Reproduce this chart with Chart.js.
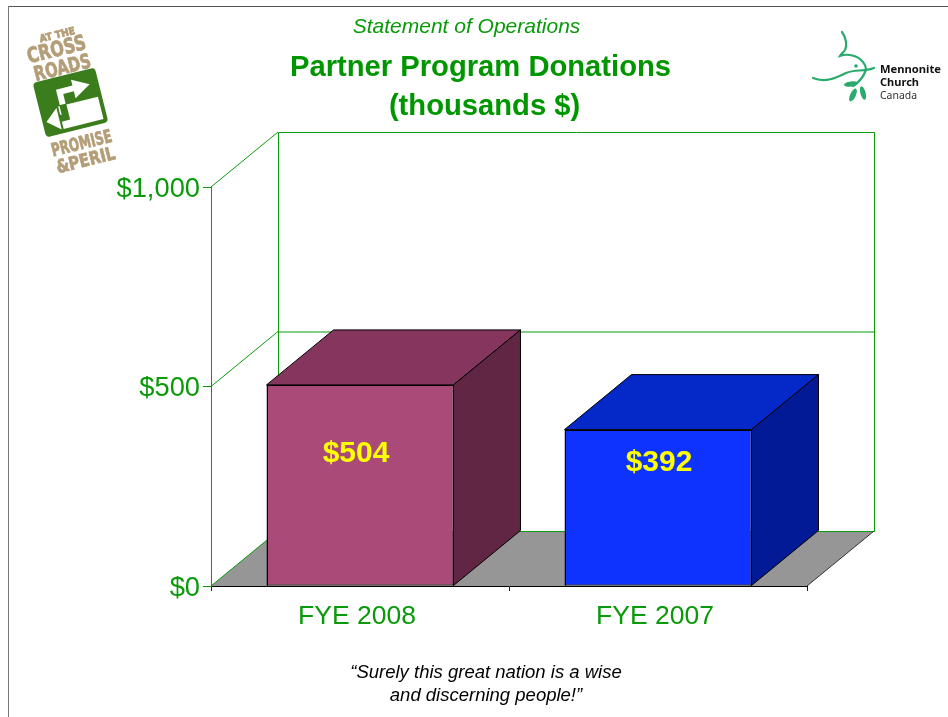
<!DOCTYPE html>
<html><head><meta charset="utf-8">
<script src="https://cdn.jsdelivr.net/npm/chart.js@4"></script>
<style>
html,body{margin:0;padding:0;background:#fff;overflow:hidden}
#wrap{position:relative;width:948px;height:717px;overflow:hidden}
canvas{position:absolute;left:0;top:0}
#frameT{position:absolute;left:8px;top:6px;right:0;height:1px;background:#555}
#frameL{position:absolute;left:8px;top:6px;bottom:0;width:1px;background:#777}
#quote{position:absolute;left:286px;width:400px;top:661px;text-align:center;font:italic 18.5px/22.5px "Liberation Sans",Arial,sans-serif;color:#000}
svg{position:absolute;left:0;top:0}
</style></head><body>
<div id="wrap">
<div id="frameT"></div><div id="frameL"></div>
<canvas id="c" width="948" height="717"></canvas>
<div id="quote">“Surely this great nation is a wise<br>and discerning people!”</div>
<svg width="948" height="717" font-family="Liberation Sans, Arial, sans-serif">
  <g fill="#B49E78" font-weight="bold" text-anchor="middle" font-family="DejaVu Sans, sans-serif" stroke="#B49E78" stroke-width=".8">
    <g transform="translate(58,38) rotate(-14)"><text font-size="10" textLength="36" lengthAdjust="spacingAndGlyphs">AT THE</text></g>
    <g transform="translate(58,56) rotate(-14)"><text font-size="21" textLength="60" lengthAdjust="spacingAndGlyphs">CROSS</text></g>
    <g transform="translate(64,74) rotate(-14)"><text font-size="20" textLength="58" lengthAdjust="spacingAndGlyphs">ROADS</text></g>
    <g transform="translate(83,149) rotate(-14)"><text font-size="18" textLength="62" lengthAdjust="spacingAndGlyphs">PROMISE</text></g>
    <g transform="translate(87,166) rotate(-14)"><text font-size="18" textLength="60" lengthAdjust="spacingAndGlyphs">&amp;PERIL</text></g>
  </g>
  <g transform="translate(70.5,102.5) rotate(-14)">
    <rect x="-32" y="-28" width="64" height="56" rx="4" fill="#3B7D1C"/>
    <rect x="-13" y="1" width="41" height="23" fill="#fff"/>
    <path d="M-8 2 V-13 H8" fill="none" stroke="#fff" stroke-width="6"/>
    <path d="M6 -22 L23 -13 L6 -3 Z" fill="#fff"/>
    <path d="M-8 0 V13 H-16" fill="none" stroke="#3B7D1C" stroke-width="7"/>
    <path d="M-15 2 L-28 13 L-15 24 Z" fill="#fff"/>
  </g>
  <g fill="none" stroke="#2BAA6E" stroke-width="2.2" stroke-linecap="round">
    <path d="M842 32 C847 39 847 46 845 50 C843 53 841 54 840 56 C848 53 858 56 862 61 C865 64 866 67 866 70"/>
    <path d="M813 78 C825 83 836 78 846 73 C855 69 864 72 874 68"/>
    <path d="M866 70 C863 78 858 83 853 86"/>
  </g>
  <circle cx="856" cy="66" r="1.8" fill="#2BAA6E"/>
  <g fill="#2BAA6E">
    <ellipse cx="851" cy="84" rx="7" ry="2.6" transform="rotate(-8 851 84)"/>
    <ellipse cx="853" cy="95" rx="2.8" ry="7" transform="rotate(25 853 95)"/>
    <ellipse cx="863" cy="93" rx="2.6" ry="7" transform="rotate(-15 863 93)"/>
  </g>
  <g font-family="Noto Sans, sans-serif" font-size="11" fill="#111">
    <text x="880" y="73" font-weight="bold" textLength="61" lengthAdjust="spacingAndGlyphs">Mennonite</text>
    <text x="880" y="86" font-weight="bold" textLength="39" lengthAdjust="spacingAndGlyphs">Church</text>
    <text x="880" y="99" fill="#333" textLength="37" lengthAdjust="spacingAndGlyphs">Canada</text>
  </g>
</svg>
</div>
<script>
const categories = ["FYE 2008", "FYE 2007"];
const donations = [504, 392];
const valueLabels = ["$504", "$392"];
const yTicks = [0, 500, 1000];
const frontColors = ["#A94A78", "#0F33FF"];
const topColors = ["#86355E", "#0528C8"];
const sideColors = ["#602644", "#031A96"];

const GREEN = "#099A09";
const DX = 67, DY = -55;
const labelDrop = [69, 33];

function poly(ctx, pts, fill, stroke) {
  ctx.beginPath();
  pts.forEach((p, i) => i ? ctx.lineTo(p[0], p[1]) : ctx.moveTo(p[0], p[1]));
  ctx.closePath();
  if (fill) { ctx.fillStyle = fill; ctx.fill(); }
  if (stroke) { ctx.strokeStyle = stroke; ctx.lineWidth = 1; ctx.stroke(); }
}
function line(ctx, x1, y1, x2, y2, c) {
  ctx.beginPath(); ctx.moveTo(x1, y1); ctx.lineTo(x2, y2);
  ctx.strokeStyle = c; ctx.lineWidth = 1; ctx.stroke();
}
const depth3d = {
  id: "depth3d",
  afterLayout(chart) {
    chart.boxes.forEach(b => {
      if (b === chart.titleBlock) { b.left += 63; b.right += 63; }
      else if (b.options && b.options.text && b.position === "top") { b.left += 77; b.right += 77; }
    });
  },
  beforeDatasetsDraw(chart) {
    const { ctx, chartArea: a, scales: { y } } = chart;
    const L = a.left, R = a.right, B = y.getPixelForValue(0);
    ctx.save();
    poly(ctx, [[L, B], [L + DX, B + DY], [R + DX, B + DY], [R, B]], "#969696");
    const top = y.getPixelForValue(yTicks[yTicks.length - 1]);
    poly(ctx, [[L + DX + .5, top + DY + .5], [R + DX + .5, top + DY + .5], [R + DX + .5, B + DY + .5], [L + DX + .5, B + DY + .5]], null, GREEN);
    yTicks.forEach(t => {
      const py = y.getPixelForValue(t);
      line(ctx, L, py, L + DX, py + DY, GREEN);
      if (t > 0 && t < yTicks[yTicks.length - 1]) line(ctx, L + DX, py + DY + .5, R + DX, py + DY + .5, GREEN);
    });
    line(ctx, R, B, R + DX, B + DY, "#333");
    const meta = chart.getDatasetMeta(0);
    meta.data.forEach((bar, i) => {
      const x1 = bar.x - bar.width / 2, x2 = bar.x + bar.width / 2, t = bar.y, b = bar.base;
      poly(ctx, [[x1, t], [x1 + DX, t + DY], [x2 + DX, t + DY], [x2, t]], topColors[i], "#000");
      poly(ctx, [[x2, t], [x2 + DX, t + DY], [x2 + DX, b + DY], [x2, b]], sideColors[i], "#000");
    });
    ctx.restore();
  },
  afterDatasetsDraw(chart) {
    const { ctx } = chart;
    ctx.save();
    chart.getDatasetMeta(0).data.forEach(bar => {
      const x1 = Math.round(bar.x - bar.width / 2) + .5, x2 = Math.round(bar.x + bar.width / 2) + .5;
      const t = Math.round(bar.y) + .5, b = Math.round(bar.base) + .5;
      poly(ctx, [[x1, t], [x2, t], [x2, b], [x1, b]], null, "#000");
    });
    ctx.font = 'bold 30px "Liberation Sans", Arial, sans-serif';
    ctx.fillStyle = "#FFFF00";
    ctx.textAlign = "center";
    ctx.textBaseline = "middle";
    chart.getDatasetMeta(0).data.forEach((bar, i) => {
      ctx.fillText(valueLabels[i], bar.x - 4 + i * 5, bar.y + labelDrop[i]);
    });
    ctx.restore();
  }
};

new Chart(document.getElementById("c"), {
  type: "bar",
  data: {
    labels: categories,
    datasets: [{
      data: donations,
      backgroundColor: frontColors,
      borderColor: "#000",
      borderWidth: 1,
      borderSkipped: false,
      barPercentage: 0.6275,
      categoryPercentage: 1
    }]
  },
  plugins: [depth3d],
  options: {
    responsive: false,
    animation: false,
    layout: { padding: { left: 0, right: 141, top: 0, bottom: 0 } },
    plugins: {
      legend: { display: false },
      tooltip: { enabled: false },
      title: {
        display: true,
        text: "Statement of Operations",
        color: GREEN,
        font: { family: '"Liberation Sans", Arial, sans-serif', size: 21, style: "italic", weight: "normal", lineHeight: 1.2 },
        padding: { top: 15, bottom: 5 }
      },
      subtitle: {
        display: true,
        text: ["Partner Program Donations", " (thousands $)"],
        color: "#009600",
        font: { family: '"Liberation Sans", Arial, sans-serif', size: 29.2, weight: "bold", lineHeight: 1.336 },
        padding: { top: 3, bottom: 60.8 }
      }
    },
    scales: {
      x: {
        afterFit(s) { s.height = 131; },
        border: { color: "#000" },
        grid: { drawOnChartArea: false, tickLength: 5, color: "#222" },
        ticks: { color: GREEN, font: { family: '"Liberation Sans", Arial, sans-serif', size: 26.5 }, labelOffset: -3, padding: 10, maxRotation: 0 }
      },
      y: {
        min: 0, max: 1000,
        afterFit(s) { s.width = 211; },
        afterBuildTicks(s) { s.ticks = yTicks.map(v => ({ value: v })); },
        border: { color: GREEN },
        grid: { drawOnChartArea: false, tickLength: 8, color: GREEN },
        ticks: {
          color: GREEN,
          font: { family: '"Liberation Sans", Arial, sans-serif', size: 27.3 },
          padding: 3,
          labelOffset: 2,
          callback: v => "$" + Number(v).toLocaleString("en-US")
        }
      }
    }
  }
});
</script>
</body></html>
